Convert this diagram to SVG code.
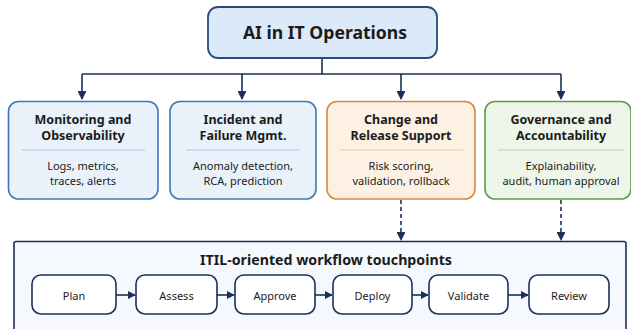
<svg xmlns="http://www.w3.org/2000/svg" width="631" height="329" viewBox="0 0 631 329">
  <defs>
    <marker id="arrow" viewBox="0 0 10 10" refX="9" refY="5" markerWidth="5.5" markerHeight="5.5" orient="auto" markerUnits="strokeWidth">
      <path d="M0,0 L10,5 L0,10 z" fill="#1c2f5a"/>
    </marker>
    <marker id="arrowSmall" viewBox="0 0 10 10" refX="9" refY="5" markerWidth="5" markerHeight="5" orient="auto" markerUnits="strokeWidth">
      <path d="M0,0 L10,5 L0,10 z" fill="#1c2f5a"/>
    </marker>
  </defs>
  <style>
    text { font-family: "Noto Sans", "Open Sans", sans-serif; fill: #1b1b1b; text-anchor: middle; dominant-baseline: central; }
    .root-title { font-size: 17.6px; font-weight: bold; }
    .cat-title { font-size: 12.5px; font-weight: bold; }
    .cat-body { font-size: 11px; }
    .panel-title { font-size: 14.2px; font-weight: bold; }
    .step-label { font-size: 11px; }
    .link { fill: none; stroke: #1c2f5a; stroke-width: 1.6; }
    .dashed { stroke-dasharray: 4 3; }
    .blue { fill: #e9f2fb; stroke: #3b79b4; stroke-width: 1.6; }
    .orange { fill: #fdf1e4; stroke: #d7893c; stroke-width: 1.6; }
    .green { fill: #eef6ea; stroke: #5c9c4c; stroke-width: 1.6; }
    .div-blue { stroke: #a8cae8; stroke-width: 1.2; }
    .div-orange { stroke: #f2c6a0; stroke-width: 1.2; }
    .div-green { stroke: #b7d8a6; stroke-width: 1.2; }
    .step { fill: #ffffff; stroke: #1c2f5a; stroke-width: 1.6; }
  </style>
  <rect width="631" height="329" fill="#ffffff"/>

  <!-- workflow panel sits underneath its connectors and steps -->
  <g id="itil-panel">
    <rect x="14" y="241.5" width="612" height="100" rx="2" fill="#f5f8fc" stroke="#1c2f5a" stroke-width="1.6"/>
    <text class="panel-title" x="326" y="259">ITIL-oriented workflow touchpoints</text>
  </g>

  <g id="connectors">
    <path class="link" d="M322,58 V74"/>
    <path class="link" d="M82,74 H561"/>
    <path class="link" d="M82,74 V99" marker-end="url(#arrow)"/>
    <path class="link" d="M242,74 V99" marker-end="url(#arrow)"/>
    <path class="link" d="M401,74 V99" marker-end="url(#arrow)"/>
    <path class="link" d="M561,74 V99" marker-end="url(#arrow)"/>
    <path class="link dashed" d="M401,200 V240" marker-end="url(#arrow)"/>
    <path class="link dashed" d="M561,200 V240" marker-end="url(#arrow)"/>
    <path class="link" d="M116,295 H135" marker-end="url(#arrowSmall)"/>
    <path class="link" d="M217,295 H234" marker-end="url(#arrowSmall)"/>
    <path class="link" d="M315,295 H332" marker-end="url(#arrowSmall)"/>
    <path class="link" d="M412,295 H428" marker-end="url(#arrowSmall)"/>
    <path class="link" d="M508,295 H528" marker-end="url(#arrowSmall)"/>
  </g>

  <g id="root">
    <rect x="208" y="7" width="229" height="51" rx="10" fill="#dce9f8" stroke="#2b4a7c" stroke-width="1.8"/>
    <text class="root-title" x="325" y="32">AI in IT Operations</text>
  </g>

  <g id="monitoring">
    <rect class="blue" x="8.5" y="101.5" width="149.5" height="97.5" rx="10"/>
    <text class="cat-title" x="83" y="119">Monitoring and</text>
    <text class="cat-title" x="83" y="135">Observability</text>
    <line class="div-blue" x1="22" y1="150" x2="145" y2="150"/>
    <text class="cat-body" x="83" y="165">Logs, metrics,</text>
    <text class="cat-body" x="83" y="180">traces, alerts</text>
  </g>

  <g id="incident">
    <rect class="blue" x="170" y="101.5" width="146" height="97.5" rx="10"/>
    <text class="cat-title" x="243" y="119">Incident and</text>
    <text class="cat-title" x="243" y="135">Failure Mgmt.</text>
    <line class="div-blue" x1="186" y1="150" x2="300" y2="150"/>
    <text class="cat-body" x="243" y="165">Anomaly detection,</text>
    <text class="cat-body" x="243" y="180">RCA, prediction</text>
  </g>

  <g id="change">
    <rect class="orange" x="327" y="101.5" width="148" height="97.5" rx="10"/>
    <text class="cat-title" x="401" y="119">Change and</text>
    <text class="cat-title" x="401" y="135">Release Support</text>
    <line class="div-orange" x1="339" y1="150" x2="463" y2="150"/>
    <text class="cat-body" x="401" y="165">Risk scoring,</text>
    <text class="cat-body" x="401" y="180">validation, rollback</text>
  </g>

  <g id="governance">
    <rect class="green" x="485" y="101.5" width="146" height="97.5" rx="10"/>
    <text class="cat-title" x="561" y="119">Governance and</text>
    <text class="cat-title" x="561" y="135">Accountability</text>
    <line class="div-green" x1="498" y1="150" x2="624" y2="150"/>
    <text class="cat-body" x="561" y="165">Explainability,</text>
    <text class="cat-body" x="561" y="180">audit, human approval</text>
  </g>

  <g id="plan">
    <rect class="step" x="32" y="275" width="84" height="39" rx="9"/>
    <text class="step-label" x="74" y="295">Plan</text>
  </g>
  <g id="assess">
    <rect class="step" x="136" y="275" width="81" height="39" rx="9"/>
    <text class="step-label" x="176.5" y="295">Assess</text>
  </g>
  <g id="approve">
    <rect class="step" x="235" y="275" width="80" height="39" rx="9"/>
    <text class="step-label" x="275" y="295">Approve</text>
  </g>
  <g id="deploy">
    <rect class="step" x="333" y="275" width="79" height="39" rx="9"/>
    <text class="step-label" x="372.5" y="295">Deploy</text>
  </g>
  <g id="validate">
    <rect class="step" x="429" y="275" width="79" height="39" rx="9"/>
    <text class="step-label" x="468.5" y="295">Validate</text>
  </g>
  <g id="review">
    <rect class="step" x="529" y="275" width="80" height="39" rx="9"/>
    <text class="step-label" x="569" y="295">Review</text>
  </g>
</svg>
